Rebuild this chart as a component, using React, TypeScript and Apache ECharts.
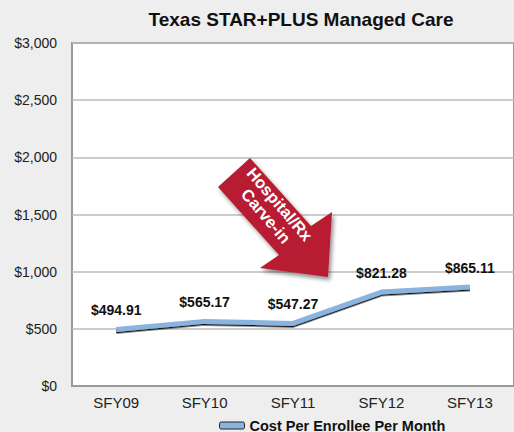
import React, { useEffect, useRef } from "react";
import * as echarts from "echarts";

const categories = ["SFY09", "SFY10", "SFY11", "SFY12", "SFY13"];
const costValues = [494.91, 565.17, 547.27, 821.28, 865.11];
const seriesName = "Cost Per Enrollee Per Month";
const titleText = "Texas STAR+PLUS Managed Care";
const arrowText = "Hospital/Rx\nCarve-in";

const FONT = '"Liberation Sans", Arial, Helvetica, sans-serif';

export default function App() {
  const ref = useRef<HTMLDivElement>(null);
  useEffect(() => {
    if (!ref.current) return;
    const chart = echarts.init(ref.current, undefined, { renderer: "svg" });
    chart.setOption({
      animation: false,
      backgroundColor: "#eeeeee",
      textStyle: { fontFamily: FONT },
      title: {
        text: titleText,
        left: 296,
        textAlign: "center",
        top: 5,
        textStyle: { fontSize: 19, fontWeight: "bold", color: "#111", fontFamily: FONT },
      },
      grid: {
        left: 72,
        top: 43,
        width: 450,
        height: 343,
        show: true,
        backgroundColor: "#ffffff",
        borderColor: "#999",
        borderWidth: 2,
      },
      xAxis: {
        type: "category",
        data: categories,
        boundaryGap: true,
        axisLine: { show: true, lineStyle: { color: "#999", width: 2 } },
        axisTick: { show: false },
        axisLabel: { color: "#222", fontSize: 15, margin: 9, fontFamily: FONT },
      },
      yAxis: {
        type: "value",
        min: 0,
        max: 3000,
        interval: 500,
        axisLine: { show: false },
        axisTick: { show: false },
        splitLine: { lineStyle: { color: "#bbb", width: 1.5 } },
        axisLabel: {
          color: "#222",
          fontSize: 14,
          margin: 15,
          fontFamily: FONT,
          formatter: (v: number) => "$" + v.toLocaleString("en-US"),
        },
      },
      legend: {
        left: 214,
        top: 413,
        itemWidth: 25,
        itemHeight: 7,
        itemGap: 4,
        icon: "roundRect",
        itemStyle: { color: "#8ab4dd", borderColor: "#222", borderWidth: 1 },
        textStyle: { fontSize: 14.5, fontWeight: "bold", color: "#111", fontFamily: FONT },
        data: [seriesName],
      },
      series: [
        {
          name: seriesName,
          type: "line",
          data: costValues,
          symbol: "circle",
          symbolSize: 1,
          showSymbol: true,
          lineStyle: {
            color: "#8ab4dd",
            width: 5,
            shadowColor: "rgba(0,0,0,0.95)",
            shadowOffsetX: 0,
            shadowOffsetY: 1.5,
            shadowBlur: 0,
          },
          itemStyle: { color: "rgba(0,0,0,0)", borderWidth: 0 },
          label: {
            show: true,
            position: "top",
            distance: 12,
            fontSize: 14,
            fontWeight: "bold",
            color: "#111",
            fontFamily: FONT,
            formatter: (p: any) => "$" + p.value.toFixed(2),
          },
        },
      ],
      graphic: [
        {
          type: "polygon",
          shape: {
            points: [
              [250, 158],
              [218, 187],
              [279, 255],
              [260, 268],
              [328, 277],
              [332, 212],
              [311, 226],
            ],
          },
          style: {
            fill: "#b71c30",
            shadowBlur: 4,
            shadowColor: "rgba(0,0,0,0.45)",
            shadowOffsetX: 2,
            shadowOffsetY: 3,
          },
          z: 100,
        },
        {
          type: "text",
          x: 273,
          y: 210,
          rotation: -0.86,
          style: {
            text: arrowText,
            fill: "#fff",
            font: "bold 16.5px " + FONT,
            align: "center",
            verticalAlign: "middle",
            lineHeight: 18,
          },
          z: 101,
        },
      ],
    });
    return () => chart.dispose();
  }, []);
  return (
    <div
      ref={ref}
      style={{ position: "absolute", left: 0, top: 0, width: 514, height: 432 }}
    />
  );
}
